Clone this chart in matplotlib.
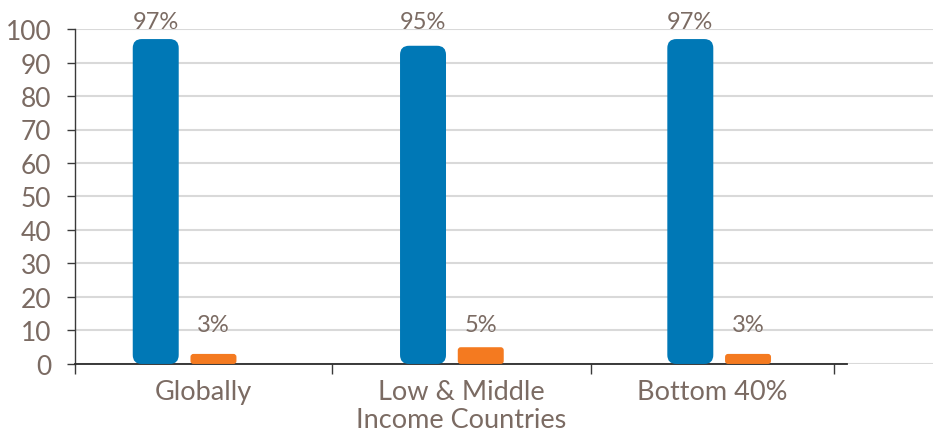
import numpy as np
import matplotlib
matplotlib.use("Agg")
import matplotlib.pyplot as plt
from matplotlib.patches import FancyBboxPatch

## data
categories = ["Globally", "Low & Middle\nIncome Countries", "Bottom 40%"]
series_a = [97, 95, 97]
series_b = [3, 5, 3]
yticks = [0, 10, 20, 30, 40, 50, 60, 70, 80, 90, 100]

text_col = "#7b6b63"
blue = "#0078b6"
orange = "#f47a20"

plt.rcParams['font.family'] = ['Lato', 'DejaVu Sans']

fig = plt.figure(figsize=(9.33, 4.35), dpi=100)
ax = fig.add_axes([0.0804, 0.161, 0.9196, 0.770])

ind = np.arange(len(categories))
width = 0.172
off = 0.108

bars1 = ax.bar(ind - off, series_a, width, color=blue, zorder=3)
bars2 = ax.bar(ind + off, series_b, width, color=orange, zorder=3)

xmin, xmax = -0.41, 2.8
ax.set_xlim(xmin, xmax)
ax.set_ylim(0, 100)

## round the bar corners (radius given in pixels)
bb = ax.get_window_extent()
px_x = bb.width / (xmax - xmin)
px_y = bb.height / 100.0
aspect = px_x / px_y


def round_bars(bars, rad_px):
    for b in bars:
        x, y = b.get_x(), b.get_y()
        w, h = b.get_width(), b.get_height()
        b.remove()
        p = FancyBboxPatch((x, y), w, h,
                           boxstyle="round,pad=0,rounding_size=%f" % (rad_px / px_x),
                           mutation_aspect=aspect, facecolor=b.get_facecolor(),
                           edgecolor="none", zorder=3)
        ax.add_patch(p)


round_bars(bars1, 9)
round_bars(bars2, 3)

## value labels sit at fixed levels above the bars
for i in ind:
    ax.text(i - off, 100.2, "%d%%" % series_a[i], ha="center", va="baseline",
            fontsize=17, color=text_col, clip_on=False)
    ax.text(i + off, 9.8, "%d%%" % series_b[i], ha="center", va="baseline",
            fontsize=17, color=text_col, clip_on=False)

## grid
ax.set_yticks(yticks)
ax.yaxis.grid(True, color="#d9d9d9", linewidth=1.5, zorder=0)
ax.set_axisbelow(True)

for s in ['top', 'right']:
    ax.spines[s].set_visible(False)
ax.spines['left'].set_color("#3a3a3a")
ax.spines['bottom'].set_color("#2b2b2b")
ax.spines['left'].set_linewidth(1.0)
ax.spines['bottom'].set_linewidth(1.3)

bounds = [xmin, 0.55, 1.52, 2.43]
ax.spines['bottom'].set_bounds(xmin, 2.48)

ax.tick_params(axis='y', length=6, width=1, color="#3a3a3a", pad=11,
               labelsize=19, labelcolor=text_col)

centers = [(bounds[k] + bounds[k + 1]) / 2 for k in range(len(categories))]
ax.set_xticks(centers)
ax.set_xticklabels(categories, fontsize=19.5, color=text_col, linespacing=1.12)
ax.tick_params(axis='x', which='major', length=0, pad=11)
ax.set_xticks(bounds, minor=True)
ax.tick_params(axis='x', which='minor', length=7, width=1, color="#3a3a3a")

fig.savefig("out.png", dpi=100)
